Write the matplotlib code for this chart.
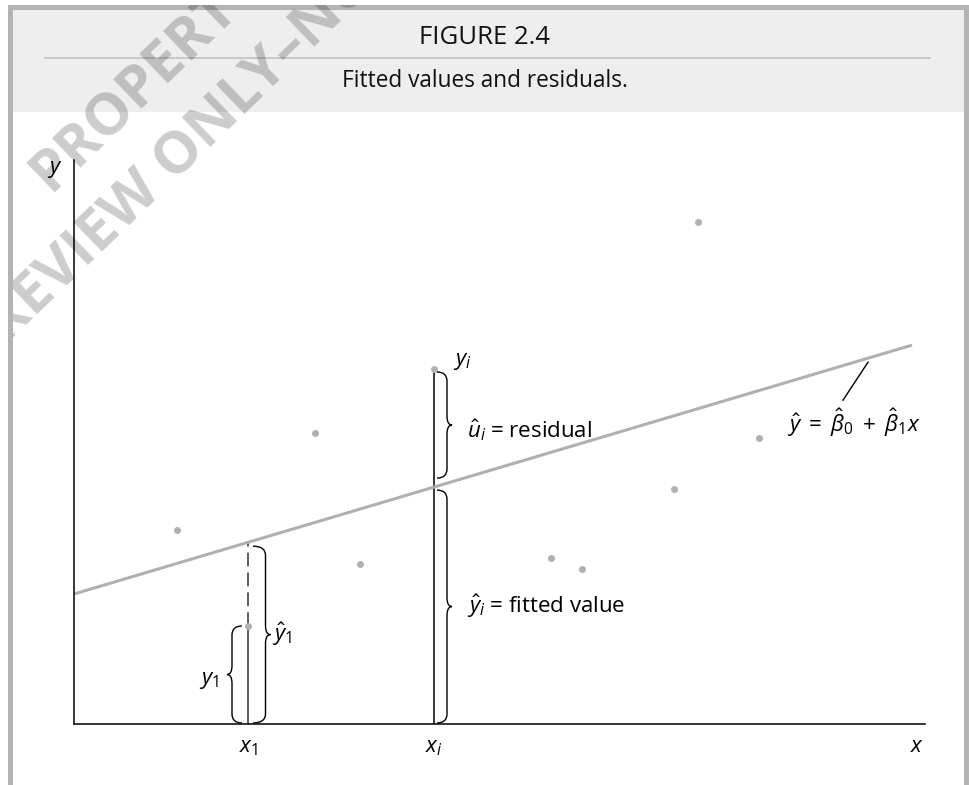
import matplotlib
matplotlib.use("Agg")
import matplotlib.pyplot as plt
from matplotlib.patches import Rectangle, PathPatch
from matplotlib.path import Path
from matplotlib.lines import Line2D

plt.rcParams["font.family"] = ["Open Sans", "DejaVu Sans"]
plt.rcParams["mathtext.fontset"] = "custom"
plt.rcParams["mathtext.rm"] = "Open Sans"
plt.rcParams["mathtext.it"] = "Open Sans:italic"
plt.rcParams["mathtext.bf"] = "Open Sans:bold"

# scatter of observations (x, y)
obs_x = [10.3, 24.1, 28.6, 17.45, 36.0, 47.7, 50.8, 60.0, 62.4, 68.5]
obs_y = [19.4, 29.1, 16.0, 9.8, 35.5, 16.6, 15.5, 23.5, 50.2, 28.6]
# OLS line: y = b0 + b1 x
b0 = 13.0
b1 = 0.297
line_end = 83.8
# which observations get the braces
first = 3
ith = 4

W, H = 970, 785
def fx(p): return p / W
def fy(p): return 1 - p / H

fig = plt.figure(figsize=(W / 100, H / 100), dpi=100)

# page frame and caption box
frame = "#b4b4b4"
fig.add_artist(Rectangle((fx(13), fy(112)), fx(964) - fx(13), fy(10) - fy(112),
                         transform=fig.transFigure, color="#eeeeee", lw=0, zorder=-3))
fig.add_artist(Rectangle((fx(8), fy(10)), fx(969) - fx(8), fy(5) - fy(10),
                         transform=fig.transFigure, color=frame, lw=0, zorder=-3))
fig.add_artist(Rectangle((fx(8), 0), fx(13) - fx(8), fy(5),
                         transform=fig.transFigure, color=frame, lw=0, zorder=-3))
fig.add_artist(Rectangle((fx(964), 0), fx(969) - fx(964), fy(5),
                         transform=fig.transFigure, color=frame, lw=0, zorder=-3))
fig.add_artist(Line2D([fx(45), fx(930)], [fy(57.5), fy(57.5)], transform=fig.transFigure,
                      color="#bdbdbd", lw=1.1, zorder=-3))
fig.text(0.5, fy(37), "FIGURE 2.4", ha="center", va="center", fontsize=18.5, color="#111111")
fig.text(0.5, fy(81), "Fitted values and residuals.", ha="center", va="center",
         fontsize=16.3, color="#111111")

# watermark, kept inside the page frame
page = Rectangle((fx(13), 0), fx(964) - fx(13), fy(5), transform=fig.transFigure,
                 visible=False)
fig.add_artist(page)
wm = dict(rotation=44, rotation_mode="anchor", ha="left", va="baseline",
          fontsize=42, fontweight="bold", color="black", alpha=0.2, zorder=-2)
for txt, px, py in [("PROPERTY", 50, 193), ("REVIEW ONLY\u2013NOT", 7, 345)]:
    t = fig.text(fx(px), fy(py), txt, **wm)
    t.set_clip_path(page)

ax = fig.add_axes([fx(74), fy(724), (925 - 74) / W, (724 - 160) / H])
ax.patch.set_visible(False)
ax.set_xlim(0, 85.1)
ax.set_ylim(0, 56.4)
for s in ("top", "right"):
    ax.spines[s].set_visible(False)
for s in ("left", "bottom"):
    ax.spines[s].set_linewidth(1.1)
ax.set_xticks([])
ax.set_yticks([])

def fit(x):
    return b0 + b1 * x

ax.plot([0, line_end], [fit(0), fit(line_end)], color="#b0b0b0", lw=2.2,
        solid_capstyle="butt", zorder=2)
ax.plot(obs_x, obs_y, "o", color="#b0b0b0", ms=5, mec="none", zorder=3)

x1, y1 = obs_x[first], obs_y[first]
xi, yi = obs_x[ith], obs_y[ith]
ax.plot([x1, x1], [0, y1], color="#333333", lw=1.1, zorder=1)
ax.plot([x1, x1], [y1, fit(x1)], color="#333333", lw=1.1, dashes=(9, 4), zorder=1)
ax.plot([xi, xi], [0, yi], color="black", lw=1.1, zorder=1)

def brace(x, y0, y_top, side, gap, depth, tip, r=0.9):
    xs = x + side * gap
    xm = xs + side * depth
    xt = xm + side * tip
    ym = (y0 + y_top) / 2
    verts = [(xs, y0), (xm, y0), (xm, y0 + r),
             (xm, ym - r), (xm, ym), (xt, ym),
             (xm, ym), (xm, ym + r),
             (xm, y_top - r), (xm, y_top), (xs, y_top)]
    codes = [Path.MOVETO, Path.CURVE3, Path.CURVE3,
             Path.LINETO, Path.CURVE3, Path.CURVE3,
             Path.CURVE3, Path.CURVE3,
             Path.LINETO, Path.CURVE3, Path.CURVE3]
    ax.add_patch(PathPatch(Path(verts, codes), fill=False, lw=1.0, ec="black",
                           zorder=4, clip_on=False))

brace(x1, 0.1, y1, -1, 0.65, 1.0, 0.5)
brace(x1, 0.1, fit(x1) - 0.4, 1, 0.45, 1.25, 0.5)
brace(xi, fit(xi) + 0.9, yi - 0.3, 1, 0.3, 1.0, 0.5)
brace(xi, 0.1, fit(xi) - 0.3, 1, 0.3, 1.0, 0.5)

fs = 16
ax.text(x1 - 3.0, y1 / 2 - 0.55, r"$y_1$", ha="right", va="center", fontsize=fs)
ax.text(x1 + 2.35, fit(x1) / 2 - 0.1, r"$\hat{y}_1$", ha="left", va="center", fontsize=fs)
ax.text(xi + 1.9, yi + 0.7, r"$y_i$", ha="left", va="center", fontsize=fs)
ax.text(xi + 3.3, (fit(xi) + yi) / 2 - 0.2, r"$\hat{u}_i$ = residual", ha="left",
        va="center", fontsize=fs)
ax.text(xi + 3.3, fit(xi) / 2 - 0.1, r"$\hat{y}_i$ = fitted value", ha="left",
        va="center", fontsize=fs)

# equation of the fitted line with a leader
lead = 79.4
ax.plot([lead - 2.5, lead], [fit(lead) - 4.2, fit(lead) - 0.4], color="black", lw=1.0,
        zorder=4)
ax.text(71.3, 30.1, r"$\hat{y}\;=\;\hat{\beta}_0\;+\;\hat{\beta}_1x$", ha="left",
        va="center", fontsize=fs)

# axis names and ticks
ax.text(x1, -2.4, r"$x_1$", ha="center", va="center", fontsize=fs, clip_on=False)
ax.text(xi, -2.4, r"$x_i$", ha="center", va="center", fontsize=fs, clip_on=False)
ax.text(84.3, -2.2, r"$x$", ha="center", va="center", fontsize=fs, clip_on=False)
ax.text(-1.9, 55.4, r"$y$", ha="center", va="center", fontsize=fs, clip_on=False)

fig.savefig("out.png", dpi=100)
